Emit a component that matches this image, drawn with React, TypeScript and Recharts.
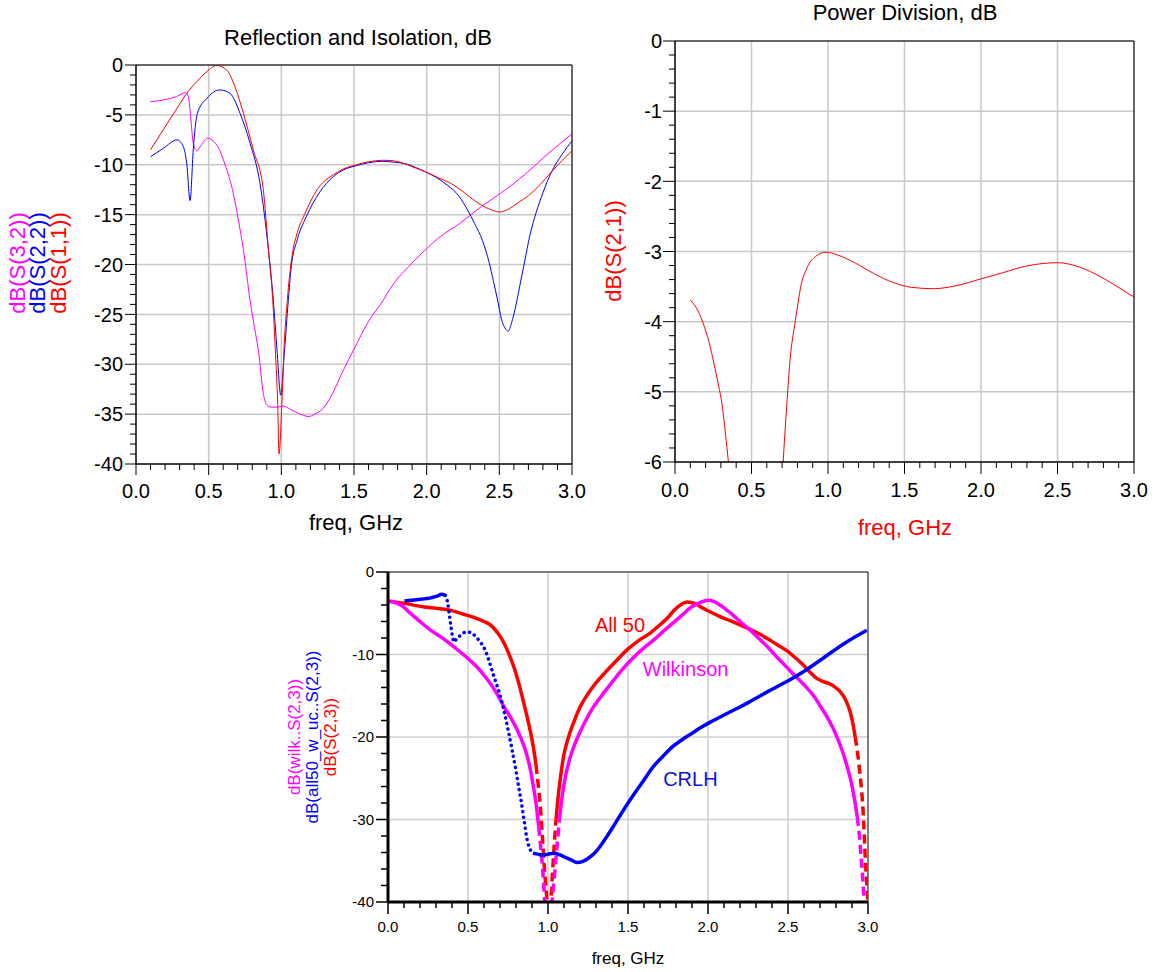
import React from 'react';
import {
  LineChart,
  Line,
  XAxis,
  YAxis,
  CartesianGrid,
  ReferenceLine,
  ReferenceDot,
} from 'recharts';

const FONT = "'Liberation Sans', Arial, Helvetica, sans-serif";
const RED = '#ff0000';
const BLUE = '#0000ff';
const MAGENTA = '#ff00ff';

type Pt = [number, number]; // [freq GHz, dB]

// Reflection and Isolation, dB
const s11: Pt[] = [
  [0.1, -8.5], [0.2, -6.2], [0.28, -4.4], [0.349, -2.84], [0.418, -1.67], [0.487, -0.67],
  [0.555, -0.05], [0.624, -0.5], [0.681, -2.17], [0.739, -4.85], [0.807, -8.5], [0.876, -12.5],
  [0.911, -18.5], [0.941, -23.6], [0.96, -29], [0.975, -34], [0.984, -39], [1.006, -33.1],
  [1.02, -28], [1.041, -23.6], [1.072, -19.3], [1.11, -16.8], [1.159, -15], [1.2, -13.7],
  [1.251, -12.4], [1.3, -11.6], [1.357, -11], [1.43, -10.4], [1.515, -10], [1.6, -9.7],
  [1.699, -9.55], [1.77, -9.6], [1.83, -9.8], [1.9, -10.2], [1.99, -10.7], [2.08, -11.3],
  [2.17, -11.9], [2.25, -12.7], [2.33, -13.6], [2.41, -14.3], [2.46, -14.6], [2.5, -14.75],
  [2.54, -14.6], [2.57, -14.4], [2.63, -13.8], [2.7, -13.1], [2.78, -12], [2.86, -10.7],
  [2.93, -9.6], [3.0, -8.6],
];
const s22: Pt[] = [
  [0.1, -9.2], [0.188, -8.35], [0.284, -7.5], [0.326, -8.2], [0.349, -9.85], [0.372, -13.6],
  [0.394, -8.5], [0.422, -4.85], [0.487, -3.35], [0.578, -2.5], [0.647, -2.84], [0.716, -4.85],
  [0.785, -7.85], [0.853, -11.85], [0.911, -18.5], [0.945, -23.6], [0.97, -28.5], [0.996, -33.1],
  [1.02, -29], [1.048, -23.6], [1.067, -20.4], [1.11, -17.5], [1.172, -15.2], [1.264, -12.75],
  [1.357, -11.2], [1.43, -10.5], [1.515, -10.1], [1.6, -9.8], [1.699, -9.65], [1.78, -9.75],
  [1.857, -9.9], [1.93, -10.3], [1.99, -10.7], [2.07, -11.3], [2.147, -12.1], [2.22, -13.1],
  [2.28, -14.5], [2.33, -15.9], [2.384, -17.6], [2.43, -19.8], [2.46, -21.7], [2.49, -23.7],
  [2.515, -25.5], [2.54, -26.4], [2.56, -26.7], [2.585, -25.8], [2.608, -24.5], [2.64, -22.2],
  [2.674, -19.7], [2.71, -17.1], [2.753, -14.8], [2.8, -12.8], [2.86, -10.7], [2.93, -9],
  [3.0, -7.6],
];
const s32: Pt[] = [
  [0.1, -3.68], [0.211, -3.44], [0.28, -3.15], [0.342, -2.77], [0.36, -3.18], [0.376, -5.18],
  [0.394, -7.85], [0.418, -8.6], [0.45, -8.0], [0.491, -7.35], [0.555, -8.0], [0.613, -10],
  [0.67, -12.9], [0.716, -16.5], [0.739, -18.5], [0.785, -23.6], [0.815, -26.3], [0.842, -28.6],
  [0.876, -32.9], [0.9, -34.1], [0.93, -34.3], [0.97, -34.3], [1.014, -34.2], [1.06, -34.5],
  [1.1, -34.8], [1.15, -35.1], [1.186, -35.25], [1.23, -35], [1.289, -34.4], [1.357, -32.8],
  [1.42, -30.8], [1.496, -28.6], [1.6, -25.7], [1.7, -23.6], [1.75, -22.4], [1.91, -19.7],
  [2.0, -18.4], [2.094, -17.2], [2.226, -15.9], [2.384, -14.1], [2.515, -12.8], [2.674, -11],
  [2.83, -8.95], [3.0, -6.9],
];

// Power Division, dB
const s21: Pt[] = [
  [0.1, -3.69], [0.149, -3.84], [0.185, -4.03], [0.221, -4.28], [0.257, -4.62], [0.281, -4.87],
  [0.306, -5.16], [0.33, -5.6], [0.349, -6.0], [0.4, -7.2], [0.5, -10.5], [0.56, -13],
  [0.62, -10], [0.68, -7.3], [0.707, -6.0], [0.727, -5.31], [0.751, -4.57], [0.787, -3.98],
  [0.805, -3.72], [0.823, -3.49], [0.859, -3.25], [0.919, -3.07], [0.986, -3.01], [1.087, -3.07],
  [1.208, -3.2], [1.304, -3.32], [1.424, -3.44], [1.544, -3.51], [1.689, -3.53], [1.833, -3.49],
  [2.0, -3.39], [2.146, -3.3], [2.29, -3.21], [2.41, -3.17], [2.507, -3.16], [2.627, -3.21],
  [2.747, -3.32], [2.868, -3.47], [3.0, -3.65],
];

// S(2,3) comparison
const all50: Pt[] = [
  [0, -3.5], [0.1, -3.8], [0.227, -4.24], [0.3, -4.4], [0.394, -4.65], [0.47, -5.1],
  [0.537, -5.5], [0.6, -6.0], [0.632, -6.3], [0.67, -7.0], [0.704, -7.9], [0.735, -9.0],
  [0.763, -10.3], [0.795, -12.0], [0.823, -13.9], [0.85, -16.0], [0.87, -17.6], [0.895, -19.8],
  [0.918, -22.4], [0.925, -23.4], [0.94, -26], [0.954, -28.9], [0.968, -33], [0.978, -36],
  [0.994, -40], [1.006, -44], [1.018, -40], [1.028, -36.5], [1.037, -33.7], [1.05, -30],
  [1.061, -27.7], [1.08, -24.6], [1.097, -22.4], [1.125, -20.2], [1.157, -18.4], [1.2, -16.4],
  [1.252, -14.7], [1.31, -13.2], [1.371, -11.9], [1.43, -10.7], [1.49, -9.5], [1.56, -8.4],
  [1.634, -7.47], [1.7, -6.4], [1.753, -5.45], [1.79, -4.6], [1.824, -4.04], [1.872, -3.64],
  [1.92, -3.84], [1.97, -4.4], [2.015, -4.85], [2.075, -5.4], [2.134, -5.86], [2.2, -6.4],
  [2.254, -6.87], [2.31, -7.4], [2.373, -8.08], [2.43, -8.8], [2.49, -9.5], [2.54, -10.3],
  [2.586, -11.1], [2.63, -12.0], [2.68, -12.9], [2.72, -13.3], [2.755, -13.5], [2.79, -13.9],
  [2.826, -14.5], [2.86, -15.5], [2.886, -16.8], [2.905, -18.3], [2.92, -20], [2.945, -23.6],
  [2.969, -28.9], [2.986, -35.8], [3.0, -40],
];
const wilkinson: Pt[] = [
  [0, -3.5], [0.083, -4.04], [0.14, -5.0], [0.203, -6.06], [0.27, -7.1], [0.346, -8.08],
  [0.42, -9.2], [0.489, -10.3], [0.55, -11.4], [0.608, -12.7], [0.67, -14.4], [0.727, -16.4],
  [0.765, -17.6], [0.799, -18.8], [0.83, -20.1], [0.859, -21.6], [0.885, -23.5], [0.906, -25.7],
  [0.925, -28], [0.942, -30.9], [0.955, -33.5], [0.966, -35.8], [0.98, -40], [1.0, -45],
  [1.025, -40], [1.045, -35.8], [1.06, -32.5], [1.073, -29.7], [1.09, -27], [1.109, -24.8],
  [1.135, -22.7], [1.169, -20.8], [1.22, -18.6], [1.276, -16.6], [1.335, -15], [1.395, -13.5],
  [1.465, -11.8], [1.538, -10.3], [1.6, -9.2], [1.658, -8.28], [1.72, -7.2], [1.777, -6.26],
  [1.84, -5.2], [1.896, -4.24], [1.95, -3.7], [2.003, -3.43], [2.035, -3.55], [2.063, -3.84],
  [2.11, -4.5], [2.158, -5.25], [2.2, -6.0], [2.254, -6.87], [2.31, -7.9], [2.373, -9.09],
  [2.43, -10.3], [2.49, -11.5], [2.55, -12.7], [2.611, -13.9], [2.66, -15.0], [2.707, -16.4],
  [2.745, -17.6], [2.778, -18.8], [2.81, -20.2], [2.838, -21.6], [2.87, -23.6], [2.898, -25.7],
  [2.918, -27.8], [2.933, -29.7], [2.95, -32.8], [2.962, -35.8], [2.976, -40],
];
const crlh: Pt[] = [
  [0.103, -3.5], [0.179, -3.35], [0.274, -3.1], [0.31, -2.9], [0.334, -2.7], [0.358, -2.83],
  [0.374, -3.84], [0.384, -5.2], [0.394, -6.67], [0.405, -8.0], [0.413, -8.5], [0.425, -8.2],
  [0.441, -7.9], [0.47, -7.4], [0.501, -7.27], [0.53, -7.5], [0.56, -8.08], [0.585, -8.7],
  [0.608, -9.5], [0.632, -10.8], [0.656, -12.3], [0.68, -13.7], [0.704, -15.2], [0.728, -17.1],
  [0.751, -19.2], [0.775, -21.5], [0.799, -24], [0.818, -26.2], [0.835, -28.1], [0.853, -30.4],
  [0.87, -32.5], [0.888, -33.6], [0.906, -34.1], [0.935, -34.2], [0.966, -34.3], [1.0, -34.2],
  [1.037, -34.1], [1.075, -34.3], [1.109, -34.6], [1.145, -34.9], [1.181, -35.2], [1.215, -35.1],
  [1.252, -34.7], [1.29, -34.1], [1.324, -33.3], [1.37, -32], [1.419, -30.5], [1.48, -28.6],
  [1.538, -26.9], [1.6, -25.2], [1.658, -23.6], [1.72, -22.3], [1.777, -21.2], [1.84, -20.3],
  [1.896, -19.6], [1.96, -18.8], [2.015, -18.2], [2.134, -17], [2.254, -15.8], [2.373, -14.5],
  [2.49, -13.3], [2.611, -11.9], [2.73, -10.3], [2.85, -8.69], [2.993, -7.07],
];

// frequency ranges where the plotted traces break up (sparse samples)
const all50Dashed: Pt[] = [[0.925, 1.05], [2.92, 3.0]];
const wilkinsonDashed: Pt[] = [[0.942, 1.073], [2.933, 3.0]];
const crlhDotted: Pt[] = [[0.358, 0.906]];

const freqMajor = [0, 0.5, 1.0, 1.5, 2.0, 2.5, 3.0];
const freqTicks = [
  0, 0.1, 0.2, 0.3, 0.4, 0.5, 0.6, 0.7, 0.8, 0.9, 1.0, 1.1, 1.2, 1.3, 1.4, 1.5,
  1.6, 1.7, 1.8, 1.9, 2.0, 2.1, 2.2, 2.3, 2.4, 2.5, 2.6, 2.7, 2.8, 2.9, 3.0,
];
const reflMajor = [0, -5, -10, -15, -20, -25, -30, -35, -40];
const divMajor = [0, -1, -2, -3, -4, -5, -6];
const isoMajor = [0, -10, -20, -30, -40];

const steps = (from: number, to: number, step: number) => {
  const out: number[] = [];
  const n = Math.round((to - from) / step);
  for (let i = 0; i <= n; i++) out.push(Math.round((from + i * step) * 100) / 100);
  return out;
};

const rows = (pts: Pt[]) => pts.map(([f, v]) => ({ f, v }));

function segments(pts: Pt[], ranges: Pt[]) {
  const inside = (a: number, b: number) => {
    const m = (a + b) / 2;
    return ranges.some(([lo, hi]) => m >= lo && m <= hi);
  };
  const segs: { broken: boolean; data: { f: number; v: number }[] }[] = [];
  for (let i = 0; i < pts.length - 1; i++) {
    const broken = inside(pts[i][0], pts[i + 1][0]);
    const last = segs[segs.length - 1];
    if (!last || last.broken !== broken) {
      segs.push({ broken, data: [{ f: pts[i][0], v: pts[i][1] }] });
    }
    segs[segs.length - 1].data.push({ f: pts[i + 1][0], v: pts[i + 1][1] });
  }
  return segs;
}

const isMajor = (majors: number[], v: number) => majors.some(m => Math.abs(m - v) < 1e-6);

const xTick = (majors: number[], fs: number, big: number, small: number, gap: number, w = 1) =>
  (p: any) => {
    const v = p.payload.value;
    const major = isMajor(majors, v);
    return (
      <g>
        <line x1={p.x} x2={p.x} y1={p.y} y2={p.y + (major ? big : small)} stroke="#000" strokeWidth={w} />
        {major && (
          <text x={p.x} y={p.y + gap} textAnchor="middle" fontSize={fs} fontFamily={FONT} fill="#000">
            {v.toFixed(1)}
          </text>
        )}
      </g>
    );
  };

const yTick = (majors: number[], fs: number, big: number, small: number, gap: number, w = 1) =>
  (p: any) => {
    const v = p.payload.value;
    const major = isMajor(majors, v);
    return (
      <g>
        <line x1={p.x} x2={p.x - (major ? big : small)} y1={p.y} y2={p.y} stroke="#000" strokeWidth={w} />
        {major && (
          <text x={p.x - gap} y={p.y} dy="0.36em" textAnchor="end" fontSize={fs} fontFamily={FONT} fill="#000">
            {String(v)}
          </text>
        )}
      </g>
    );
  };

function Txt({ x, y, size, color = '#000', rotate = false, children }: any) {
  return (
    <div
      style={{
        position: 'absolute',
        left: x,
        top: y,
        transform: `translate(-50%, -50%)${rotate ? ' rotate(-90deg)' : ''}`,
        fontSize: size,
        color,
        fontFamily: FONT,
        whiteSpace: 'nowrap',
        lineHeight: 1,
      }}
    >
      {children}
    </div>
  );
}

function ReflectionChart() {
  return (
    <LineChart width={600} height={545} margin={{ top: 65, right: 28, bottom: 41, left: 0 }}>
      <CartesianGrid
        stroke="#c8c8c8"
        strokeWidth={1.5}
        verticalValues={[0.5, 1.0, 1.5, 2.0, 2.5]}
        horizontalValues={reflMajor.slice(1, -1)}
      />
      <XAxis
        type="number"
        dataKey="f"
        domain={[0, 3]}
        ticks={freqTicks}
        interval={0}
        allowDataOverflow
        height={40}
        tickSize={0}
        tickMargin={0}
        tickLine={false}
        axisLine={{ stroke: '#000', strokeWidth: 1.5 }}
        tick={xTick(freqMajor, 20, 11, 6, 34)}
      />
      <YAxis
        type="number"
        domain={[-40, 0]}
        ticks={steps(-40, 0, 1)}
        interval={0}
        allowDataOverflow
        width={136}
        tickSize={0}
        tickMargin={0}
        tickLine={false}
        axisLine={{ stroke: '#000', strokeWidth: 1.5 }}
        tick={yTick(reflMajor, 20, 11, 6, 13)}
      />
      <Line data={rows(s32)} dataKey="v" type="monotone" stroke={MAGENTA} strokeWidth={1} dot={false} isAnimationActive={false} />
      <Line data={rows(s22)} dataKey="v" type="monotone" stroke={BLUE} strokeWidth={1} dot={false} isAnimationActive={false} />
      <Line data={rows(s11)} dataKey="v" type="monotone" stroke={RED} strokeWidth={1} dot={false} isAnimationActive={false} />
      <ReferenceLine y={0} stroke="#333" strokeWidth={1.5} />
      <ReferenceLine x={3} stroke="#333" strokeWidth={1.5} />
    </LineChart>
  );
}

function DivisionChart() {
  return (
    <LineChart width={557} height={545} margin={{ top: 41, right: 23, bottom: 43, left: 0 }}>
      <CartesianGrid
        stroke="#c8c8c8"
        strokeWidth={1.5}
        verticalValues={[0.5, 1.0, 1.5, 2.0, 2.5]}
        horizontalValues={divMajor.slice(1, -1)}
      />
      <XAxis
        type="number"
        dataKey="f"
        domain={[0, 3]}
        ticks={freqTicks}
        interval={0}
        allowDataOverflow
        height={40}
        tickSize={0}
        tickMargin={0}
        tickLine={false}
        axisLine={{ stroke: '#000', strokeWidth: 1.5 }}
        tick={xTick(freqMajor, 20, 12, 6, 35)}
      />
      <YAxis
        type="number"
        domain={[-6, 0]}
        ticks={steps(-6, 0, 0.2)}
        interval={0}
        allowDataOverflow
        width={75}
        tickSize={0}
        tickMargin={0}
        tickLine={false}
        axisLine={{ stroke: '#000', strokeWidth: 1.5 }}
        tick={yTick(divMajor, 20, 12, 6, 13)}
      />
      <Line data={rows(s21)} dataKey="v" type="monotone" stroke={RED} strokeWidth={1} dot={false} isAnimationActive={false} />
      <ReferenceLine y={0} stroke="#333" strokeWidth={1.5} />
      <ReferenceLine x={3} stroke="#333" strokeWidth={1.5} />
    </LineChart>
  );
}

function IsolationChart() {
  const traces = [
    { pts: all50, ranges: all50Dashed, color: RED, dash: '9 5', cap: 'butt' },
    { pts: wilkinson, ranges: wilkinsonDashed, color: MAGENTA, dash: '9 5', cap: 'butt' },
    { pts: crlh, ranges: crlhDotted, color: BLUE, dash: '0.1 5.5', cap: 'round' },
  ];
  return (
    <LineChart width={620} height={427} margin={{ top: 27, right: 32, bottom: 40, left: 0 }}>
      <CartesianGrid
        stroke="#cfcfcf"
        strokeWidth={1.5}
        verticalValues={[0.5, 1.0, 1.5, 2.0, 2.5]}
        horizontalValues={isoMajor.slice(1, -1)}
      />
      <XAxis
        type="number"
        dataKey="f"
        domain={[0, 3]}
        ticks={freqTicks}
        interval={0}
        allowDataOverflow
        height={30}
        tickSize={0}
        tickMargin={0}
        tickLine={false}
        axisLine={{ stroke: '#000', strokeWidth: 3 }}
        tick={xTick(freqMajor, 15, 12, 6, 30, 1.5)}
      />
      <YAxis
        type="number"
        domain={[-40, 0]}
        ticks={steps(-40, 0, 2)}
        interval={0}
        allowDataOverflow
        width={108}
        tickSize={0}
        tickMargin={0}
        tickLine={false}
        axisLine={{ stroke: '#000', strokeWidth: 3 }}
        tick={yTick(isoMajor, 15, 12, 7, 14, 1.5)}
      />
      {traces.flatMap((t, ti) =>
        segments(t.pts, t.ranges).map((s, si) => (
          <Line
            key={`${ti}-${si}`}
            data={s.data}
            dataKey="v"
            type="monotone"
            stroke={t.color}
            strokeWidth={3.5}
            strokeDasharray={s.broken ? t.dash : undefined}
            strokeLinecap={s.broken ? (t.cap as any) : 'butt'}
            dot={false}
            activeDot={false}
            isAnimationActive={false}
          />
        ))
      )}
      <ReferenceLine y={0} stroke="#555" strokeWidth={1.5} />
      <ReferenceLine x={3} stroke="#555" strokeWidth={1.5} />
      <ReferenceDot x={1.45} y={-6.4} r={0} fill="none" stroke="none"
        label={{ value: 'All 50', position: 'center', fill: RED, fontSize: 20, fontFamily: FONT }} />
      <ReferenceDot x={1.86} y={-11.8} r={0} fill="none" stroke="none"
        label={{ value: 'Wilkinson', position: 'center', fill: MAGENTA, fontSize: 20, fontFamily: FONT }} />
      <ReferenceDot x={1.89} y={-25.1} r={0} fill="none" stroke="none"
        label={{ value: 'CRLH', position: 'center', fill: '#1010e0', fontSize: 20, fontFamily: FONT }} />
    </LineChart>
  );
}

export default function App() {
  return (
    <div style={{ position: 'absolute', left: 0, top: 0, width: 1157, height: 972, background: '#fff', fontFamily: FONT }}>
      <div style={{ position: 'absolute', left: 0, top: 0 }}>
        <ReflectionChart />
      </div>
      <div style={{ position: 'absolute', left: 600, top: 0 }}>
        <DivisionChart />
      </div>
      <div style={{ position: 'absolute', left: 280, top: 545 }}>
        <IsolationChart />
      </div>

      <Txt x={358} y={38} size={22}>Reflection and Isolation, dB</Txt>
      <Txt x={356} y={523} size={22}>freq, GHz</Txt>
      <Txt x={18} y={263} size={22} color={MAGENTA} rotate>dB(S(3,2))</Txt>
      <Txt x={38} y={263} size={22} color={BLUE} rotate>dB(S(2,2))</Txt>
      <Txt x={59} y={263} size={22} color={RED} rotate>dB(S(1,1))</Txt>

      <Txt x={905} y={13} size={22}>Power Division, dB</Txt>
      <Txt x={905} y={528} size={22} color={RED}>freq, GHz</Txt>
      <Txt x={614} y={251} size={22} color={RED} rotate>dB(S(2,1))</Txt>

      <Txt x={628} y={958} size={17}>freq, GHz</Txt>
      <Txt x={294} y={737} size={17} color={MAGENTA} rotate>dB(wilk..S(2,3))</Txt>
      <Txt x={312} y={737} size={17} color={BLUE} rotate>dB(all50_w_uc..S(2,3))</Txt>
      <Txt x={330} y={737} size={17} color={RED} rotate>dB(S(2,3))</Txt>
    </div>
  );
}
